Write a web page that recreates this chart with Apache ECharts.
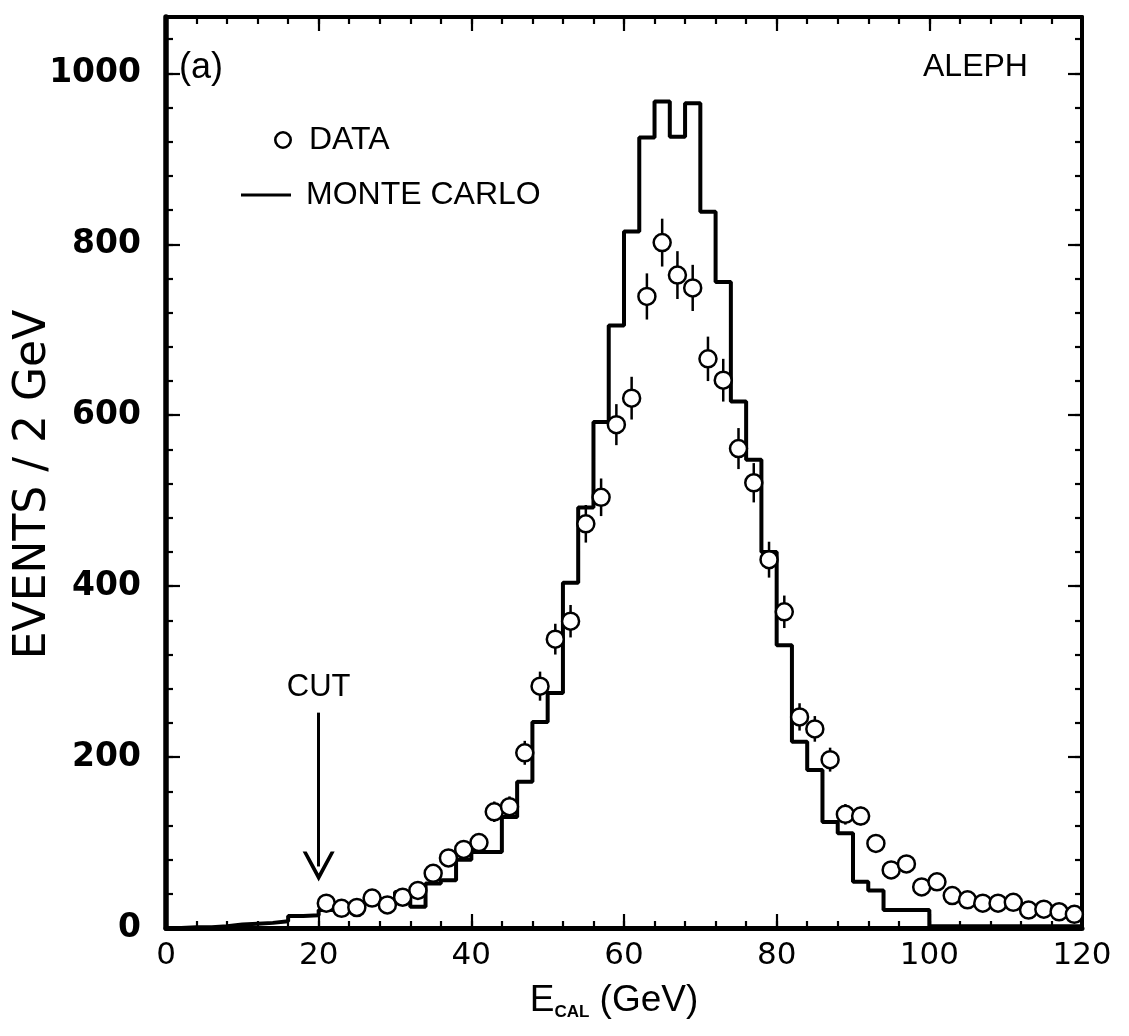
<!DOCTYPE html>
<html>
<head>
<meta charset="utf-8">
<script src="https://cdn.jsdelivr.net/npm/echarts/dist/echarts.min.js"></script>
<style>html,body{margin:0;padding:0;background:#fff}#c{width:1129px;height:1036px}</style>
</head>
<body>
<div id="c"></div>
<script>
// ---------- data ----------
const mcEdges = [0,2,4,6,8,10,12,14,16,18,20,22,24,26,28,30,32,34,36,38,40,42,44,46,48,50,52,54,56,58,60,62,64,66,68,70,72,74,76,78,80,82,84,86,88,90,92,94,96,98,100,102,104,106,108,110,112,114,116,118,120];
const mcCounts = [0,1,1,2,4,5,6,8,14,15,
                  21,23,27,30,34,42,25,52,56,80,
                  89,89,130,171,241,275,404,492,592,705,
                  815,925,967,926,965,838,756,616,548,440,
                  331,218,185,124,111,54,44,21,21,21,
                  2,2,2,2,2,2,2,2,2,2];
const dataE = [21,23,25,27,29,31,33,35,37,39,41,43,45,47,49,51,53,55,57,59,61,63,65,67,69,71,73,75,77,79,81,83,85,87,89,91,93,95,97,99,101,103,105,107,109,111,113,115,117,119];
const dataCounts = [29,23,24,35,27,36,44,64,82,92,
                    100,136,142,205,283,338,359,473,504,589,
                    620,739,802,764,749,666,641,561,521,431,
                    370,247,233,197,133,131,99,68,75,48,
                    54,38,33,29,29,30,21,22,19,16];
const dataErr = [5,5,5,6,5,6,7,8,9,10,
                 10,12,12,14,17,18,19,22,22,24,
                 25,27,28,28,27,26,25,24,23,21,
                 19,16,15,14,12,11,10,8,9,7,
                 7,6,6,5,5,5,5,5,4,4];
const xTicks = [0,20,40,60,80,100,120];
const yTicks = [0,200,400,600,800,1000];
const cutE = 20, cutTop = 252, cutTip = 72;

// ---------- chart ----------
const SANS = "'Liberation Sans', Arial, sans-serif";
const NUM = "'DejaVu Sans', sans-serif";
const X_MIN = xTicks[0], X_MAX = xTicks[xTicks.length-1];
const Y_MIN = yTicks[0], Y_MAX = 1066;

const mcLine = mcCounts.map((c,i)=>[mcEdges[i], c]);
mcLine.push([mcEdges[mcEdges.length-1], mcCounts[mcCounts.length-1]]);

function xAx(pos, interval, len, lw){
  return {type:'value', position:pos, min:X_MIN, max:X_MAX, interval:interval,
    axisLine:{show:lw>0, onZero:false, lineStyle:{color:'#000', width:lw}},
    axisTick:{inside:true, length:len, lineStyle:{color:'#000', width:2.2}},
    axisLabel:{show:false}, splitLine:{show:false}};
}
function yAx(pos, interval, len, lw){
  return {type:'value', position:pos, min:Y_MIN, max:Y_MAX, interval:interval,
    axisLine:{show:lw>0, onZero:false, lineStyle:{color:'#000', width:lw}},
    axisTick:{inside:true, length:len, lineStyle:{color:'#000', width:2.2}},
    axisLabel:{show:false}, splitLine:{show:false}};
}
const xMain = xAx('bottom', 20, 14, 5);
xMain.axisLabel = {show:true, fontFamily:NUM, fontSize:31, color:'#000', margin:12,
  formatter:function(v){ return String(v); }};
xMain.name = '{e|E}{s|CAL}{n| (GeV)}';
xMain.nameLocation = 'middle';
xMain.nameGap = 54;
xMain.nameMoveOverlap = false;
xMain.nameTextStyle = {color:'#000', padding:[0,20,0,0], rich:{
  e:{fontFamily:SANS, fontSize:37, color:'#000'},
  s:{fontFamily:SANS, fontSize:17, fontWeight:'bold', color:'#000', verticalAlign:'bottom', padding:[0,0,-2,0]},
  n:{fontFamily:SANS, fontSize:37, color:'#000'}}};
const yMain = yAx('left', 200, 14, 5.5);
yMain.axisLabel = {show:true, fontFamily:NUM, fontWeight:'bold', fontSize:33, color:'#000', margin:25, showMaxLabel:false,
  formatter:function(v){ return yTicks.indexOf(v) >= 0 ? String(v) : ''; }};
yMain.name = 'EVENTS / 2 GeV';
yMain.nameLocation = 'middle';
yMain.nameGap = 110;
yMain.nameMoveOverlap = false;
yMain.nameTextStyle = {fontFamily:NUM, fontSize:44, color:'#000', padding:[0,24,0,0]};

const chevron = 'path://M0,30 L16,0 L32,30 L28,30 L16,8 L4,30 Z';
const ring = 'path://M0,9 A9,9 0 1,1 18,9 A9,9 0 1,1 0,9 Z M2.6,9 A6.4,6.4 0 1,0 15.4,9 A6.4,6.4 0 1,0 2.6,9 Z';

const option = {
  animation:false,
  backgroundColor:'#fff',
  title:[
    {text:'(a)', left:174, top:45, textStyle:{fontFamily:SANS, fontSize:36, fontWeight:'normal', color:'#000'}},
    {text:'ALEPH', left:918, top:46, textStyle:{fontFamily:SANS, fontSize:32, fontWeight:'normal', color:'#000'}}
  ],
  legend:[
    {data:[{name:'DATA', icon:ring}], left:269, top:119, itemWidth:18, itemHeight:18, selectedMode:false,
     itemStyle:{color:'#000', borderWidth:0, opacity:1},
     textStyle:{fontFamily:SANS, fontSize:32, color:'#000', padding:[0,0,0,12]}},
    {data:[{name:'MONTE CARLO', icon:'rect'}], left:236, top:174, itemWidth:50, itemHeight:3, selectedMode:false,
     itemStyle:{color:'#000', borderWidth:0},
     textStyle:{fontFamily:SANS, fontSize:32, color:'#000', padding:[0,0,0,10]}}
  ],
  grid:{left:166, top:17, width:916, height:911, containLabel:false, outerBoundsMode:'none'},
  xAxis:[xMain, xAx('bottom',4,7,0), xAx('top',20,14,4), xAx('top',4,7,0)],
  yAxis:[yMain, yAx('left',40,7,0), yAx('right',200,14,4), yAx('right',40,7,0)],
  series:[
    {name:'MONTE CARLO', type:'line', step:'end', data:mcLine, symbol:'none', xAxisIndex:0, yAxisIndex:0,
     lineStyle:{color:'#000', width:4}, itemStyle:{color:'#000'}, z:2},
    {name:'err', type:'custom', xAxisIndex:0, yAxisIndex:0, silent:true, z:3,
     data:dataE.map((e,i)=>[e, dataCounts[i], dataErr[i]]),
     encode:{x:0, y:1},
     renderItem:function(params, api){
       const x = api.value(0), v = api.value(1), er = api.value(2);
       const p1 = api.coord([x, v-er]), p2 = api.coord([x, v+er]);
       return {type:'line', shape:{x1:p1[0], y1:p1[1], x2:p2[0], y2:p2[1]}, style:{stroke:'#000', lineWidth:2.5}};
     }},
    {name:'DATA', type:'scatter', xAxisIndex:0, yAxisIndex:0, z:4,
     data:dataE.map((e,i)=>[e, dataCounts[i]]),
     symbol:'circle', symbolSize:17,
     itemStyle:{color:'#fff', borderColor:'#000', borderWidth:2.5, opacity:1},
     emphasis:{disabled:true},
     markLine:{silent:true, symbol:['none', chevron], symbolSize:[32,30],
       lineStyle:{color:'#000', width:3, type:'solid'},
       label:{show:true, position:'start', formatter:'CUT', fontFamily:SANS, fontSize:31, color:'#000', distance:10},
       emphasis:{disabled:true},
       data:[[{coord:[cutE, cutTop]}, {coord:[cutE, cutTip]}]]}}
  ]
};
const chart = echarts.init(document.getElementById('c'), null, {renderer:'canvas'});
chart.setOption(option);
</script>
</body>
</html>
